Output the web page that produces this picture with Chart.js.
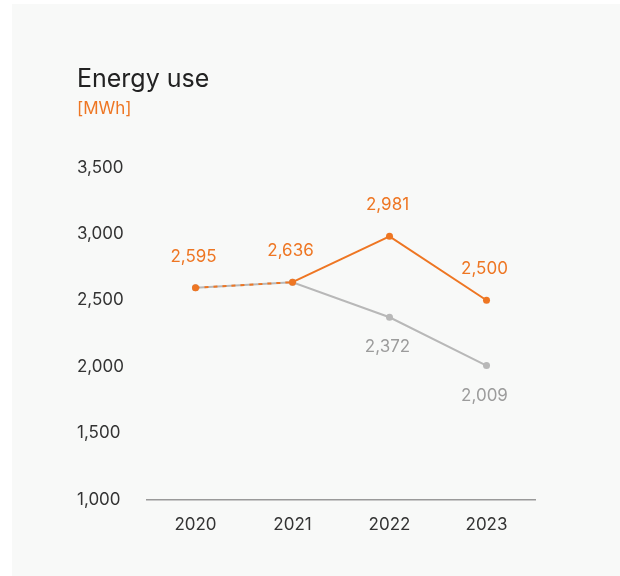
<!DOCTYPE html>
<html>
<head>
<meta charset="utf-8">
<script src="https://cdn.jsdelivr.net/npm/chart.js@4/dist/chart.umd.min.js"></script>
<style>
  html, body { margin: 0; padding: 0; background: #ffffff; }
  #wrap { position: relative; width: 620px; height: 576px; }
  canvas { display: block; }
</style>
</head>
<body>
<div id="wrap"><canvas id="chart" width="620" height="576"></canvas></div>
<script>
// Energy use per year, MWh
const years = ['2020', '2021', '2022', '2023'];
const actualUse = [2595, 2636, 2981, 2500];
const comparisonUse = [2595, 2636, 2372, 2009];
const yTicks = [1000, 1500, 2000, 2500, 3000, 3500];

const ORANGE = '#ee7623';
const GREY = '#b8b8b8';
const GREY_TEXT = '#9c9c9c';
const FONT = 'Inter, "Noto Sans", sans-serif';

// Light panel behind the chart
const panel = {
  id: 'panel',
  beforeDraw(chart) {
    const ctx = chart.ctx;
    ctx.save();
    ctx.fillStyle = '#f8f9f8';
    ctx.fillRect(12, 4, chart.width - 12, chart.height - 4);
    ctx.restore();
  }
};

// Value labels: orange above the orange line, grey below the grey line
const valueLabels = {
  id: 'valueLabels',
  afterDatasetsDraw(chart) {
    const ctx = chart.ctx;
    ctx.save();
    ctx.font = '17px ' + FONT;
    ctx.textAlign = 'center';
    ctx.textBaseline = 'middle';
    const fmt = v => v.toLocaleString('en-US');
    const top = chart.getDatasetMeta(0).data;
    top.forEach((pt, i) => {
      ctx.fillStyle = ORANGE;
      ctx.fillText(fmt(actualUse[i]), pt.x - 2, pt.y - 31);
    });
    const low = chart.getDatasetMeta(1).data;
    low.forEach((pt, i) => {
      if (i < 2) return;
      ctx.fillStyle = GREY_TEXT;
      ctx.fillText(fmt(comparisonUse[i]), pt.x - 2, pt.y + 30);
    });
    ctx.restore();
  }
};

new Chart(document.getElementById('chart'), {
  type: 'line',
  data: {
    labels: years,
    datasets: [
      {
        data: actualUse,
        borderColor: ORANGE,
        backgroundColor: ORANGE,
        borderWidth: 2,
        pointRadius: 3.5,
        pointBorderWidth: 0,
        tension: 0,
        segment: {
          borderDash: c => (c.p0DataIndex === 0 ? [4, 5] : undefined)
        }
      },
      {
        data: comparisonUse,
        borderColor: GREY,
        backgroundColor: GREY,
        borderWidth: 2,
        pointRadius: 3.5,
        pointBorderWidth: 0,
        tension: 0
      }
    ]
  },
  options: {
    responsive: false,
    animation: false,
    layout: { padding: { left: 77, right: 85, top: 0, bottom: 26 } },
    plugins: {
      legend: { display: false },
      tooltip: { enabled: false },
      title: {
        display: true,
        text: 'Energy use',
        align: 'start',
        color: '#222222',
        font: { family: FONT, size: 25, weight: '400' },
        padding: { top: 64, bottom: 0 }
      },
      subtitle: {
        display: true,
        text: '[MWh]',
        align: 'start',
        color: ORANGE,
        font: { family: FONT, size: 17, weight: '400' },
        padding: { top: 5, bottom: 48 }
      }
    },
    scales: {
      x: {
        offset: true,
        grid: { display: false, drawTicks: false },
        border: { display: true, color: '#9a9a9a', width: 1.5 },
        ticks: {
          color: '#333333',
          font: { family: FONT, size: 17 },
          padding: 15
        }
      },
      y: {
        min: 1000,
        max: 3500,
        afterBuildTicks(scale) {
          scale.ticks = yTicks.map(v => ({ value: v }));
        },
        afterFit(scale) { scale.width = 70; },
        grid: { display: false, drawTicks: false },
        border: { display: false },
        ticks: {
          color: '#333333',
          font: { family: FONT, size: 17 },
          crossAlign: 'far',
          callback: v => Number(v).toLocaleString('en-US')
        }
      }
    }
  },
  plugins: [panel, valueLabels]
});
</script>
</body>
</html>
